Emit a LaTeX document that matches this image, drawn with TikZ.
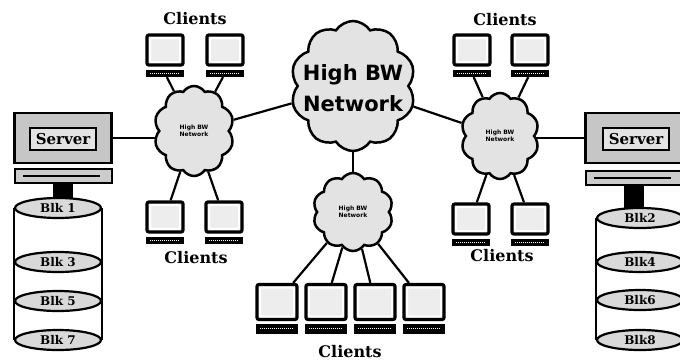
\documentclass[tikz,border=0pt]{standalone}
\usepackage{fontspec}
\setmainfont{DejaVu Serif}
\newfontfamily\netfont{DejaVu Sans}
\usetikzlibrary{shapes.symbols,shapes.geometric,positioning,backgrounds}

\tikzset{
  net/.style={cloud, cloud puffs=10, cloud puff arc=115, cloud ignores aspect, draw, line width=2.5pt, fill=gray!22, inner sep=0pt},
  nettext/.style={font=\netfont\bfseries\fontsize{6}{7}\selectfont, align=center},
  screen/.style={draw, line width=3.2pt, rounded corners=2pt, fill=gray!14, inner sep=0pt, minimum width=36pt, minimum height=30pt,
    path picture={\draw[white, line width=2pt] ([shift={(3pt,-3pt)}]path picture bounding box.north west) rectangle ([shift={(-3pt,3pt)}]path picture bounding box.south east);}},
  bigscreen/.style={screen, minimum width=40pt, minimum height=35pt},
  stand/.style={draw, line width=1.5pt, fill=black, inner sep=0pt, minimum width=36pt, minimum height=6pt,
    path picture={\draw[white, line width=0.8pt, dash pattern=on 1pt off 1pt] ([xshift=3pt]path picture bounding box.west) -- ([xshift=-3pt]path picture bounding box.east);}},
  bigstand/.style={stand, minimum width=40pt, minimum height=8pt},
  host/.style={draw, line width=2.8pt, fill=gray!45, inner sep=0pt, minimum width=97pt, minimum height=50pt},
  hostlabel/.style={draw, line width=1.5pt, fill=gray!22, inner sep=0pt, minimum width=66pt, minimum height=22pt, font=\bfseries\fontsize{15}{15}\selectfont},
  hostbase/.style={draw, line width=2pt, fill=gray!40, inner sep=0pt, minimum width=97pt, minimum height=14pt,
    path picture={\draw[line width=2.5pt] ([xshift=8pt]path picture bounding box.west) -- ([xshift=-12pt]path picture bounding box.east);}},
  disk/.style={ellipse, draw, line width=2.2pt, fill=gray!30, inner sep=0pt, minimum width=86pt, minimum height=20pt, font=\bfseries\fontsize{12}{12}\selectfont},
  tag/.style={font=\bfseries\fontsize{16}{16}\selectfont},
  link/.style={line width=2.2pt}
}

\begin{document}
\begin{tikzpicture}[x=1pt, y=-1pt]
\useasboundingbox (0,0) rectangle (680,362);

\node[net, minimum width=125pt, minimum height=130pt] (big) at (353,86) {};
\node[font=\netfont\bfseries\fontsize{21}{31}\selectfont, align=center] (bigtext) at (353,88) {High BW\\Network};
\node[net, minimum width=80pt, minimum height=90pt] (lc) at (194,131) {};
\node[nettext] (lctext) at (lc) {High BW\\Network};
\node[net, minimum width=78pt, minimum height=86pt] (rc) at (500,136) {};
\node[nettext] (rctext) at (rc) {High BW\\Network};
\node[net, minimum width=80pt, minimum height=78pt] (bcl) at (353,212) {};
\node[nettext] (bcltext) at (bcl) {High BW\\Network};

\node[screen] (tl1) at (165,50) {};
\node[stand, below=3pt of tl1] (tl1s) {};
\node[screen] (tl2) at (225,50) {};
\node[stand, below=3pt of tl2] (tl2s) {};
\node[screen] (tr1) at (472,50) {};
\node[stand, below=3pt of tr1] (tr1s) {};
\node[screen] (tr2) at (530,50) {};
\node[stand, below=3pt of tr2] (tr2s) {};
\node[screen] (bl1) at (165,217) {};
\node[stand, below=3pt of bl1] (bl1s) {};
\node[screen] (bl2) at (224,217) {};
\node[stand, below=3pt of bl2] (bl2s) {};
\node[screen] (br1) at (471,219) {};
\node[stand, below=3pt of br1] (br1s) {};
\node[screen] (br2) at (530,219) {};
\node[stand, below=3pt of br2] (br2s) {};
\node[bigscreen] (b1) at (277,302) {};
\node[bigstand, below=3pt of b1] (b1s) {};
\node[bigscreen] (b2) at (326,302) {};
\node[bigstand, below=3pt of b2] (b2s) {};
\node[bigscreen] (b3) at (375,302) {};
\node[bigstand, below=3pt of b3] (b3s) {};
\node[bigscreen] (b4) at (424,302) {};
\node[bigstand, below=3pt of b4] (b4s) {};

\node[tag] (tlc) at (195,19) {Clients};
\node[tag] (trc) at (505,20) {Clients};
\node[tag] (blc) at (196,258) {Clients};
\node[tag] (brc) at (502,256) {Clients};
\node[tag] (bc) at (350,352) {Clients};

\node[host] (srvL) at (63,138) {};
\node[hostlabel] (srvLt) at (63,139) {Server};
\node[hostbase] (srvLb) at (63,176) {};
\node[disk] (dL1) at (58,208) {Blk 1};
\node[disk] (dL3) at (58,262) {Blk 3};
\node[disk] (dL5) at (58,301) {Blk 5};
\node[disk] (dL7) at (58,340) {Blk 7};

\node[host] (srvR) at (634,138) {};
\node[hostlabel] (srvRt) at (636,139) {Server};
\node[hostbase] (srvRb) at (634,178) {};
\node[disk] (dR2) at (640,218) {Blk2};
\node[disk] (dR4) at (640,262) {Blk4};
\node[disk] (dR6) at (640,300) {Blk6};
\node[disk] (dR8) at (640,340) {Blk8};

\begin{pgfonlayer}{background}
\draw[link] (lc) -- (big);
\draw[link] (big) -- (rc);
\draw[link] (big) -- (bcl);
\draw[link] (srvL) -- (srvL -| lc);
\draw[link] (srvR) -- (srvR -| rc);
\draw[link] (tl1s) -- (lc);
\draw[link] (tl2s) -- (lc);
\draw[link] (bl1) -- (lc);
\draw[link] (bl2) -- (lc);
\draw[link] (tr1s) -- (rc);
\draw[link] (tr2s) -- (rc);
\draw[link] (br1) -- (rc);
\draw[link] (br2) -- (rc);
\draw[link] (b1) -- (bcl);
\draw[link] (b2) -- (bcl);
\draw[link] (b3) -- (bcl);
\draw[link] (b4) -- (bcl);
\draw[line width=20pt] (srvLb) -- (srvLb |- dL1);
\draw[line width=20pt] (srvRb) -- (srvRb |- dR2);
\draw[line width=1.5pt] (dL1.west) -- (dL7.west);
\draw[line width=1.5pt] (dL1.east) -- (dL7.east);
\draw[line width=1.5pt] (dR2.west) -- (dR8.west);
\draw[line width=1.5pt] (dR2.east) -- (dR8.east);
\end{pgfonlayer}
\end{tikzpicture}
\end{document}
